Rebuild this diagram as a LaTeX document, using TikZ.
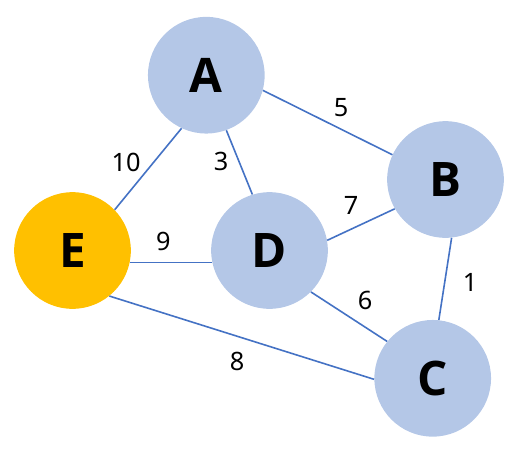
\documentclass[tikz,border=0pt]{standalone}
\usepackage{fontspec}
\setmainfont{Noto Sans}
\newfontfamily\nodefont{Open Sans}
\definecolor{nodeblue}{HTML}{B4C7E7}
\definecolor{nodeorange}{HTML}{FFC000}
\definecolor{edgeblue}{HTML}{4472C4}
\begin{document}
\begin{tikzpicture}[x=0.75pt,y=-0.75pt,
  vertex/.style={circle,draw=none,fill=nodeblue,minimum size=87.5pt,inner sep=0pt,
    font=\nodefont\bfseries\fontsize{35.7}{40}\selectfont},
  edge/.style={draw=edgeblue,line width=1.2pt},
  wlabel/.style={inner sep=0pt,font=\fontsize{19}{22}\selectfont}]
\useasboundingbox (0,0) rectangle (525,455);
\node[vertex] (A) at (206.3,75.2) {A};
\node[vertex] (B) at (445.5,179.5) {B};
\node[vertex] (C) at (432.7,378.3) {C};
\node[vertex] (D) at (269.5,250.5) {D};
\node[vertex,fill=nodeorange] (E) at (72.5,250.5) {E};
\draw[edge] (A.-15.5) -- (B.155.9);
\draw[edge] (A.245.1) -- (E.44.1);
\draw[edge] (A.-70.5) -- (D.107.9);
\draw[edge] (D.10.4) -- (B.210.3);
\draw[edge] (B.-84.6) -- (C.84.1);
\draw[edge] (D.-45.9) -- (C.141.1);
\draw[edge] (E.-51.4) -- (C.181.7);
\draw[edge] (E.-12) -- (D.192);
\node[wlabel] (l5) at (341,107.7) {5};
\node[wlabel] (l3) at (221,161.7) {3};
\node[wlabel] (l10) at (126,162) {10};
\node[wlabel] (l7) at (351,205) {7};
\node[wlabel] (l9) at (163.3,241) {9};
\node[wlabel] (l1) at (470,282.3) {1};
\node[wlabel] (l6) at (365,300) {6};
\node[wlabel] (l8) at (237,361) {8};
\end{tikzpicture}
\end{document}
